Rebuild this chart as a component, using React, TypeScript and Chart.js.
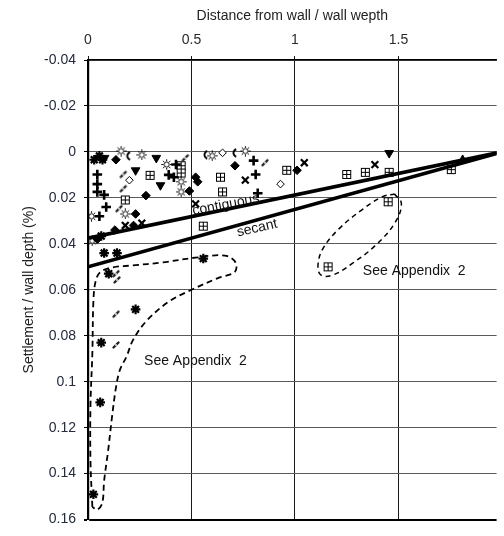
import React, { useEffect, useRef } from "react";
import { Chart, registerables } from "chart.js";

Chart.register(...registerables);

// ---- axes ----
const xTickValues = [0, 0.5, 1, 1.5];
const xTickLabels = ["0", "0.5", "1", "1.5"];
const yTickValues = [-0.04, -0.02, 0, 0.02, 0.04, 0.06, 0.08, 0.1, 0.12, 0.14, 0.16];
const yTickLabels = ["-0.04", "-0.02", "0", "0.02", "0.04", "0.06", "0.08", "0.1", "0.12", "0.14", "0.16"];
const xMin = 0;
const xMax = 1.974;
const yMin = -0.04;
const yMax = 0.16;

// ---- measured points (distance/depth, settlement/depth %) ----
const filledDiamonds: [number, number][] = [
  [0.135, 0.0034], [0.28, 0.019], [0.23, 0.027], [0.71, 0.006], [0.49, 0.017],
  [0.52, 0.011], [1.01, 0.008], [0.53, 0.013], [0.22, 0.032], [0.13, 0.034], [0.045, 0.038],
];
const downTriangles: [number, number][] = [
  [0.23, 0.008], [0.33, 0.0026], [0.35, 0.0145], [1.455, 0.0005], [0.08, 0.0026],
];
const upTriangles: [number, number][] = [[1.81, 0.0035]];
const plusMarks: [number, number][] = [
  [0.088, 0.024], [0.055, 0.028], [0.8, 0.0038], [0.81, 0.0098], [0.82, 0.018],
  [0.078, 0.0187], [0.045, 0.0098], [0.045, 0.014], [0.045, 0.0174], [0.425, 0.0055],
  [0.415, 0.011], [0.39, 0.01],
];
const crossMarks: [number, number][] = [
  [0.26, 0.031], [0.76, 0.0123], [1.045, 0.0047], [1.386, 0.0055], [0.52, 0.0226], [0.18, 0.032],
];
const asterisks: [number, number][] = [
  [0.055, 0.0017], [0.03, 0.0034], [0.07, 0.0034], [0.078, 0.044], [0.14, 0.044],
  [0.1, 0.053], [0.23, 0.0685], [0.557, 0.0464], [0.064, 0.083], [0.059, 0.109],
  [0.026, 0.149], [0.064, 0.0366],
];
const openCircles: [number, number][] = [
  [0.16, -0.0004], [0.26, 0.0013], [0.017, 0.028], [0.18, 0.027], [0.38, 0.0055],
  [0.45, 0.013], [0.45, 0.0174], [0.6, 0.0017], [0.76, -0.0004], [0.02, 0.0387],
];
const openDiamonds: [number, number][] = [[0.65, 0.0004], [0.93, 0.014], [0.2, 0.0123]];
const crescents: [number, number][] = [[0.197, 0.0017], [0.71, 0.0004], [0.57, 0.0012]];
const gridBoxes: [number, number][] = [
  [0.3, 0.0102], [0.18, 0.0209], [0.45, 0.006], [0.45, 0.0092], [0.64, 0.011],
  [0.65, 0.0174], [0.557, 0.0323], [0.96, 0.008], [1.25, 0.0098], [1.34, 0.0089],
  [1.455, 0.0089], [1.755, 0.0077], [1.45, 0.0217], [1.16, 0.05],
];
const slashMarks: [number, number][] = [
  [0.17, 0.0098], [0.17, 0.016], [0.15, 0.0247], [0.135, 0.053], [0.14, 0.0557],
  [0.135, 0.0706], [0.135, 0.084], [0.855, 0.0047], [0.47, 0.0026],
];

// ---- trend lines ----
const contiguousLine: [number, number][] = [[0, 0.0375], [2.0, 0.0]];
const secantLine: [number, number][] = [[0, 0.05], [2.0, 0.0]];

// ---- dashed envelopes ----
const hookEnvelope: [number, number][] = [
  [0.021, 0.1545], [0.012, 0.1345], [0.012, 0.11], [0.021, 0.0877], [0.026, 0.0651],
  [0.036, 0.0566], [0.059, 0.0523], [0.121, 0.0502], [0.216, 0.0494], [0.358, 0.0481],
  [0.519, 0.046], [0.661, 0.0451], [0.713, 0.0481], [0.709, 0.0523], [0.628, 0.0549],
  [0.5, 0.06], [0.391, 0.0651], [0.282, 0.0736], [0.216, 0.0821], [0.187, 0.0889],
  [0.154, 0.0949], [0.135, 0.1026], [0.116, 0.1153], [0.097, 0.1302], [0.078, 0.143],
  [0.069, 0.1528], [0.045, 0.1557], [0.021, 0.1545],
];
const ellipseEnvelope: [number, number][] = [
  [1.481, 0.0183], [1.514, 0.0226], [1.481, 0.0311], [1.386, 0.0409], [1.277, 0.0485],
  [1.182, 0.0536], [1.126, 0.0536], [1.111, 0.0494], [1.135, 0.0421], [1.211, 0.0336],
  [1.325, 0.0251], [1.42, 0.0196], [1.481, 0.0183],
];

// ---- text labels (text, x, y, rotation in degrees) ----
const labelTexts = ["contiguous", "secant", "See Appendix  2", "See Appendix  2"];
const labelX = [0.666, 0.817, 1.576, 0.519];
const labelY = [0.023, 0.0332, 0.052, 0.091];
const labelRot = [-11, -13, 0, 0];

const xTitle = "Distance from wall / wall wepth";
const yTitle = "Settlement / wall depth (%)";

const FONT = "'Liberation Sans', Arial, sans-serif";

function mk(size: number, draw: (c: CanvasRenderingContext2D, s: number) => void) {
  const c = document.createElement("canvas");
  c.width = size;
  c.height = size;
  const ctx = c.getContext("2d")!;
  draw(ctx, size);
  return c;
}

const toPts = (a: [number, number][]) => a.map(([x, y]) => ({ x, y }));

export default function App() {
  const ref = useRef<HTMLCanvasElement | null>(null);

  useEffect(() => {
    if (!ref.current) return;

    const boxImg = mk(11, (c) => {
      c.strokeStyle = "#000";
      c.lineWidth = 1;
      c.fillStyle = "#fff";
      c.fillRect(1, 1, 9, 9);
      c.strokeRect(1.5, 1.5, 8, 8);
      c.beginPath();
      c.moveTo(5.5, 1.5);
      c.lineTo(5.5, 9.5);
      c.moveTo(1.5, 5.5);
      c.lineTo(9.5, 5.5);
      c.stroke();
    });
    const sunImg = mk(11, (c) => {
      c.strokeStyle = "#000";
      c.lineWidth = 1;
      c.fillStyle = "#fff";
      c.beginPath();
      c.arc(5.5, 5.5, 2.6, 0, Math.PI * 2);
      c.fill();
      c.stroke();
      c.beginPath();
      for (let i = 0; i < 8; i++) {
        const a = (i * Math.PI) / 4;
        c.moveTo(5.5 + Math.cos(a) * 3.4, 5.5 + Math.sin(a) * 3.4);
        c.lineTo(5.5 + Math.cos(a) * 5.2, 5.5 + Math.sin(a) * 5.2);
      }
      c.stroke();
    });
    const crescentImg = mk(10, (c) => {
      c.strokeStyle = "#000";
      c.lineWidth = 2;
      c.beginPath();
      c.arc(7.5, 5, 4, Math.PI * 0.6, Math.PI * 1.4);
      c.stroke();
    });
    const slashImg = mk(10, (c) => {
      c.strokeStyle = "#222";
      c.lineWidth = 2.4;
      c.lineCap = "round";
      c.beginPath();
      c.moveTo(2.5, 7.5);
      c.lineTo(7.5, 2.5);
      c.stroke();
      c.fillStyle = "#fff";
      c.beginPath();
      c.arc(5, 5, 0.9, 0, Math.PI * 2);
      c.fill();
    });

    const markerSet = (data: [number, number][], style: any, extra: any = {}) => ({
      type: "scatter" as const,
      data: toPts(data),
      pointStyle: style,
      pointRadius: 3.5,
      borderColor: "#000",
      backgroundColor: "#000",
      pointBorderWidth: 1,
      showLine: false,
      order: 2,
      ...extra,
    });
    const lineSet = (data: [number, number][], extra: any = {}) => ({
      type: "scatter" as const,
      data: toPts(data),
      showLine: true,
      pointRadius: 0,
      borderColor: "#000",
      backgroundColor: "transparent",
      fill: false,
      order: 1,
      ...extra,
    });

    const labelPlugin = {
      id: "labels",
      afterDatasetsDraw(chart: any) {
        const { ctx, scales } = chart;
        ctx.save();
        ctx.fillStyle = "#111";
        ctx.font = `14px ${FONT}`;
        ctx.textAlign = "center";
        ctx.textBaseline = "middle";
        labelTexts.forEach((t, i) => {
          const px = scales.x.getPixelForValue(labelX[i]);
          const py = scales.y.getPixelForValue(labelY[i]);
          ctx.save();
          ctx.translate(px, py);
          ctx.rotate((labelRot[i] * Math.PI) / 180);
          ctx.fillText(t, 0, 0);
          ctx.restore();
        });
        ctx.restore();
      },
    };

    const chart = new Chart(ref.current, {
      type: "scatter",
      data: {
        datasets: [
          lineSet(contiguousLine, { borderWidth: 3.7 }),
          lineSet(secantLine, { borderWidth: 3.7 }),
          lineSet(hookEnvelope, { borderWidth: 1.8, borderDash: [6, 4], tension: 0.35 }),
          lineSet(ellipseEnvelope, { borderWidth: 1.5, borderDash: [5, 4], tension: 0.4 }),
          markerSet(filledDiamonds, "rectRot", { pointRadius: 4.3 }),
          markerSet(downTriangles, "triangle", { pointRadius: 5, rotation: 180 }),
          markerSet(upTriangles, "triangle", { pointRadius: 5 }),
          markerSet(plusMarks, "cross", { pointRadius: 4.8, pointBorderWidth: 2.6 }),
          markerSet(crossMarks, "crossRot", { pointRadius: 4.8, pointBorderWidth: 2.2 }),
          markerSet(asterisks, "star", { pointRadius: 4.8, pointBorderWidth: 2.2 }),
          markerSet(openCircles, sunImg),
          markerSet(openDiamonds, "rectRot", { backgroundColor: "#fff", pointRadius: 3.8 }),
          markerSet(crescents, crescentImg),
          markerSet(gridBoxes, boxImg),
          markerSet(slashMarks, slashImg),
        ] as any,
      },
      options: {
        animation: false,
        responsive: false,
        events: [],
        layout: { padding: { left: 0, top: 0, right: 0, bottom: 6 } },
        plugins: { legend: { display: false }, tooltip: { enabled: false } },
        scales: {
          x: {
            type: "linear",
            position: "top",
            min: xMin,
            max: xMax,
            afterBuildTicks: (s: any) => {
              s.ticks = xTickValues.map((v) => ({ value: v }));
            },
            afterFit: (s: any) => {
              s.height = 60;
            },
            ticks: {
              color: "#2a2a2a",
              font: { family: FONT, size: 14 },
              padding: 7,
              maxRotation: 0,
              callback: (_v: any, i: number) => xTickLabels[i],
            },
            grid: { color: "#1a1a1a", lineWidth: 1, tickLength: 4 },
            border: { display: true, color: "#000", width: 1.5 },
            title: {
              display: true,
              text: xTitle,
              color: "#222",
              font: { family: FONT, size: 14 },
              padding: { top: 8, bottom: 0 },
            },
          },
          y: {
            type: "linear",
            position: "left",
            reverse: true,
            min: yMin,
            max: yMax,
            afterBuildTicks: (s: any) => {
              s.ticks = yTickValues.map((v) => ({ value: v }));
            },
            afterFit: (s: any) => {
              s.width = 88;
            },
            ticks: {
              color: "#232a3d",
              font: { family: FONT, size: 14 },
              padding: 8,
              callback: (_v: any, i: number) => yTickLabels[i],
            },
            grid: {
              color: (c: any) => (c.index === yTickValues.length - 1 ? "#000" : "#5a5a5a"),
              lineWidth: (c: any) => (c.index === yTickValues.length - 1 ? 2 : 1),
              tickLength: 4,
              tickColor: "#000",
            },
            border: { display: true, color: "#000", width: 2.2 },
            title: {
              display: true,
              text: yTitle,
              color: "#222",
              font: { family: FONT, size: 14 },
              padding: { top: 21, bottom: 0 },
            },
          },
        },
      } as any,
      plugins: [labelPlugin],
    });

    return () => chart.destroy();
  }, []);

  return (
    <div style={{ position: "absolute", left: 0, top: 0, width: 504, height: 536, background: "#fff" }}>
      <canvas ref={ref} width={504} height={536} style={{ display: "block" }} />
    </div>
  );
}
